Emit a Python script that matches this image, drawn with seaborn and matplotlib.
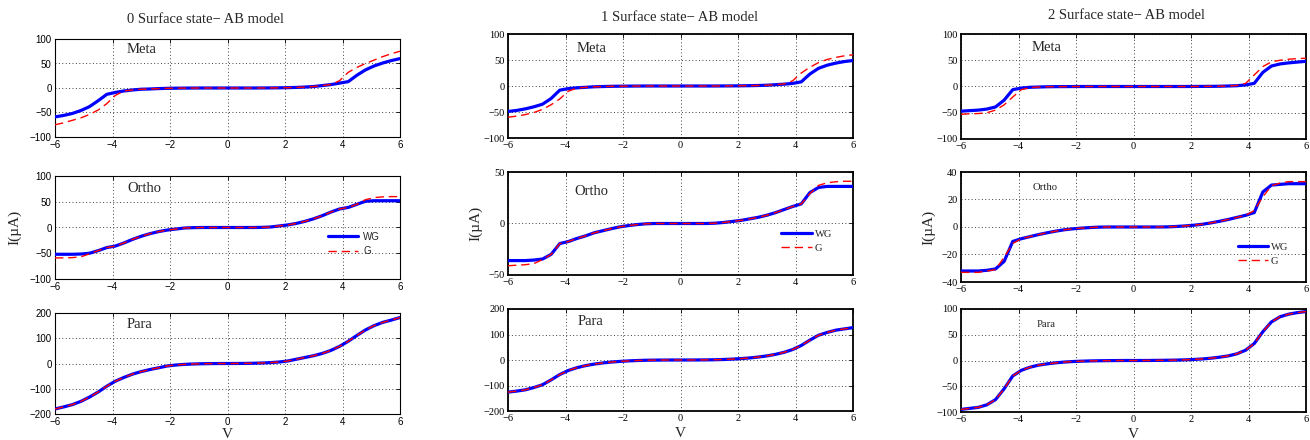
import matplotlib
matplotlib.use("Agg")
import matplotlib.pyplot as plt
import numpy as np
import pandas as pd
import seaborn as sns

# ---------------- data ----------------
V = [-6.0, -5.7, -5.4, -5.1, -4.8, -4.5, -4.2, -3.9, -3.6, -3.3, -3.0, -2.7, -2.4, -2.1,
     -1.8, -1.5, -1.2, -0.9, -0.6, -0.3, 0.0, 0.3, 0.6, 0.9, 1.2, 1.5, 1.8, 2.1, 2.4, 2.7,
     3.0, 3.3, 3.6, 3.9, 4.2, 4.5, 4.8, 5.1, 5.4, 5.7, 6.0]

column_titles = ["0 Surface state\u2212 AB model", "1 Surface state\u2212 AB model",
                 "2 Surface state\u2212 AB model"]
row_names = ["Meta", "Ortho", "Para"]
series_labels = ["WG", "G"]

# column 0 (0 surface state)
meta0_wg = [-59, -56, -52, -46, -38, -26, -13, -9, -6, -4, -2.5, -2, -1.2, -0.7, -0.4, -0.2, -0.1,
            0, 0, 0, 0, 0, 0, 0,
            0.1, 0.2, 0.4, 0.7, 1.2, 2, 3, 5, 7, 10, 13, 26, 37, 45, 51, 56, 60]
meta0_g = [-75, -71, -66, -61, -54, -45, -32, -15, -6, -4, -2.5, -2, -1.2, -0.7, -0.4, -0.2, -0.1,
           0, 0, 0, 0, 0, 0, 0,
           0.1, 0.2, 0.4, 0.7, 1.2, 2, 3, 5, 7, 15, 32, 42, 50, 57, 64, 70, 75]
ortho0_wg = [-52, -52, -52, -51.5, -50, -45, -39, -36, -30, -23, -17, -12, -8, -5, -3, -1, -0.3,
             0, 0, 0, 0, 0, 0, 0,
             0.3, 1, 3, 5, 8, 12, 17, 23, 30, 36, 39, 45, 51, 52, 52, 52, 52]
ortho0_g = [-59, -59, -58.5, -57, -51, -45, -39, -36, -30, -23, -17, -12, -8, -5, -3, -1, -0.3,
            0, 0, 0, 0, 0, 0, 0,
            0.3, 1, 3, 5, 8, 12, 17, 23, 30, 36, 39, 45, 54, 58, 59.5, 60, 60]
para0_wg = [-180, -172, -163, -150, -133, -113, -90, -70, -55, -42, -32, -24, -17, -10, -6, -3.5,
            -2, -1, -0.4, -0.1, 0, 0.1, 0.4, 1, 2, 3.5, 6, 10, 17, 24, 31, 40, 52, 68, 88, 111,
            133, 150, 163, 172, 182]
para0_g = para0_wg

# column 1 (1 surface state)
meta1_wg = [-49, -47, -44, -40, -35, -24, -8, -5, -3.5, -2.5, -1.5, -1, -0.6, -0.4, -0.2, -0.1, 0,
            0, 0, 0, 0, 0, 0, 0,
            0, 0.1, 0.2, 0.4, 0.6, 1, 1.5, 2.5, 3.5, 5, 8, 23, 34, 40, 44, 47, 49]
meta1_g = [-60, -58, -55, -51, -45, -36, -25, -10, -4, -2.5, -1.5, -1, -0.6, -0.4, -0.2, -0.1, 0,
           0, 0, 0, 0, 0, 0, 0,
           0, 0.1, 0.2, 0.4, 0.6, 1, 1.5, 2.5, 4, 10, 25, 36, 45, 51, 55, 58, 60]
ortho1_wg = [-36, -36, -36, -35.5, -34.5, -30, -19.5, -17.5, -14.5, -12, -9, -7, -5, -3.2, -2,
             -1, -0.3, 0, 0, 0, 0, 0, 0, 0,
             0.3, 1, 2, 3, 4.5, 6, 8, 10.5, 13.5, 16.5, 19, 30, 35, 36, 36, 36, 36]
ortho1_g = [-41, -40.5, -40, -39, -35, -30, -19.5, -17.5, -14.5, -12, -9, -7, -5, -3.2, -2,
            -1, -0.3, 0, 0, 0, 0, 0, 0, 0,
            0.3, 1, 2, 3, 4.5, 6, 8, 10.5, 13.5, 16.5, 19, 29, 37, 39.5, 40.5, 41, 41]
para1_wg = [-126, -122, -117, -108, -97, -78, -57, -41, -30, -22, -16, -11.5, -8, -5.5, -3.5, -2,
            -1, -0.5, -0.2, -0.05, 0, 0.05, 0.2, 0.5, 1, 2, 3.5, 5.5, 8, 11.5, 16, 22, 30, 41,
            57, 78, 97, 108, 117, 122, 127]
para1_g = para1_wg

# column 2 (2 surface states)
meta2_wg = [-47, -46, -45, -43, -39, -26, -6, -3, -1.5, -1, -0.5, -0.3, -0.2, -0.1, 0, 0, 0,
            0, 0, 0, 0, 0, 0, 0,
            0, 0, 0, 0.1, 0.2, 0.3, 0.5, 1, 1.5, 3, 6, 27, 39, 43, 45, 46.5, 48]
meta2_g = [-53, -52, -51.5, -50, -45, -35, -20, -6, -2, -1, -0.5, -0.3, -0.2, -0.1, 0, 0, 0,
           0, 0, 0, 0, 0, 0, 0,
           0, 0, 0, 0.1, 0.2, 0.3, 0.5, 1, 2, 6, 22, 38, 47, 50, 52, 53, 54]
ortho2_wg = [-32, -32, -32, -31.5, -30.5, -25, -10.5, -8.5, -7, -5.5, -4.2, -3, -2, -1.3, -0.8,
             -0.4, -0.1, 0, 0, 0, 0, 0, 0, 0,
             0.1, 0.4, 0.8, 1.3, 2, 3, 4.2, 5.5, 7, 8.5, 10.5, 25.5, 30.5, 31, 31.5, 31.5, 31.5]
ortho2_g = [-33, -33, -33, -32, -31, -22, -12, -8.5, -7, -5.5, -4.2, -3, -2, -1.3, -0.8,
            -0.4, -0.1, 0, 0, 0, 0, 0, 0, 0,
            0.1, 0.4, 0.8, 1.3, 2, 3, 4.2, 5.5, 7, 8.5, 12, 22, 30, 32, 33, 33, 33]
para2_wg = [-95, -93, -91, -86, -76, -55, -30, -19, -13, -9, -6.5, -4.5, -3, -2, -1.3, -0.8,
            -0.5, -0.3, -0.1, 0, 0, 0, 0.1, 0.3, 0.5, 0.8, 1.3, 2, 3, 4.5, 6.5, 9, 13, 20, 33,
            56, 75, 85, 90, 93, 95]
para2_g = para2_wg

panels = [
    [(meta0_wg, meta0_g), (ortho0_wg, ortho0_g), (para0_wg, para0_g)],
    [(meta1_wg, meta1_g), (ortho1_wg, ortho1_g), (para1_wg, para1_g)],
    [(meta2_wg, meta2_g), (ortho2_wg, ortho2_g), (para2_wg, para2_g)],
]
yticks = [
    [[-100, -50, 0, 50, 100], [-100, -50, 0, 50, 100], [-200, -100, 0, 100, 200]],
    [[-100, -50, 0, 50, 100], [-50, 0, 50], [-200, -100, 0, 100, 200]],
    [[-100, -50, 0, 50, 100], [-40, -20, 0, 20, 40], [-100, -50, 0, 50, 100]],
]
xticks = [-6, -4, -2, 0, 2, 4, 6]

# ---------------- style / layout ----------------
sns.set_style("white")
plt.rcParams["font.family"] = ["Liberation Serif", "DejaVu Serif"]
plt.rcParams["axes.unicode_minus"] = True

fig = plt.figure(figsize=(13.1, 4.4), dpi=100)

W, H = 1310.0, 440.0
col_left = [55, 508, 961]
col_width = 345
row_px = [  # (top, bottom) in pixels for each column
    [(39, 137), (176, 279), (313, 414)],
    [(34, 138), (172, 275), (309, 411)],
    [(34, 139), (172, 282), (309, 412)],
]
tick_family = ["Liberation Sans", "Liberation Serif", "Liberation Serif"]
tick_size = [7, 7.5, 7.5]
spine_lw = [0.8, 1.3, 1.3]
name_pos = [
    [(0.252, 0.89), (0.26, 0.88), (0.246, 0.89)],
    [(0.243, 0.856), (0.243, 0.806), (0.24, 0.88)],
    [(0.249, 0.867), (0.243, 0.855), (0.246, 0.854)],
]
name_size = [
    [10.5, 10.5, 10.5],
    [10.5, 10.5, 10.5],
    [10.5, 7.7, 7.7],
]
title_pos = [(0.435, 1.204), (0.496, 1.163), (0.481, 1.18)]
ylabel_x = [-0.096, -0.075, -0.075]
xlabel_y = [-0.14, -0.157, -0.155]
legend_anchor = [(0.942, 0.223), (0.939, 0.214), (0.948, 0.145)]
legend_prop = [{"family": "Liberation Sans", "size": 7},
               {"family": "Liberation Serif", "size": 7.6},
               {"family": "Liberation Serif", "size": 7.6}]
legend_hl = [3.1, 2.9, 2.8]
legend_tp = [0.5, 0.25, 0.25]

for c in range(3):
    for r in range(3):
        top, bot = row_px[c][r]
        ax = fig.add_axes([col_left[c] / W, 1 - bot / H, col_width / W, (bot - top) / H])
        wg, g = panels[c][r]
        df = pd.DataFrame({"V": V, "WG": wg, "G": g})
        sns.lineplot(data=df, x="V", y="WG", ax=ax, color=(0, 0, 1), lw=2.3,
                     label=series_labels[0], zorder=3)
        sns.lineplot(data=df, x="V", y="G", ax=ax, color=(1, 0, 0), lw=1.0,
                     linestyle=(0, (6, 3.5)), label=series_labels[1], zorder=4)
        leg = ax.get_legend()
        if leg is not None:
            leg.remove()

        ax.set_xlim(-6, 6)
        ax.set_ylim(yticks[c][r][0], yticks[c][r][-1])
        ax.set_xticks(xticks)
        ax.set_yticks(yticks[c][r])
        ax.grid(True, linestyle=(0, (1, 2.5)), color="0.25", lw=0.7)
        ax.tick_params(direction="in", top=True, right=True, length=3, width=0.6,
                       pad=2.5, labelsize=tick_size[c], labelfontfamily=tick_family[c],
                       colors="black")
        for sp in ax.spines.values():
            sp.set_visible(True)
            sp.set_color("black")
            sp.set_linewidth(spine_lw[c])
        ax.set_xlabel("")
        ax.set_ylabel("")

        nx, ny = name_pos[c][r]
        ax.text(nx, ny, row_names[r], transform=ax.transAxes, ha="center", va="center",
                fontsize=name_size[c][r], family="Liberation Serif")

        if r == 0:
            tx, ty = title_pos[c]
            ax.set_title(column_titles[c], fontsize=10.5, x=tx, y=ty, pad=0,
                         verticalalignment="center", family="Liberation Serif")
        if r == 1:
            ax.set_ylabel("I(\u00b5A)", fontsize=11, family="Liberation Serif")
            ax.yaxis.set_label_coords(ylabel_x[c], 0.5)
            ax.legend(loc="lower right", bbox_to_anchor=legend_anchor[c], frameon=False,
                      prop=legend_prop[c], handlelength=legend_hl[c],
                      handletextpad=legend_tp[c], labelspacing=0.45,
                      borderpad=0, borderaxespad=0)
        if r == 2:
            ax.set_xlabel("V", fontsize=11, family="Liberation Serif")
            ax.xaxis.set_label_coords(0.5, xlabel_y[c])

fig.savefig("out.png", dpi=100, facecolor="white")
